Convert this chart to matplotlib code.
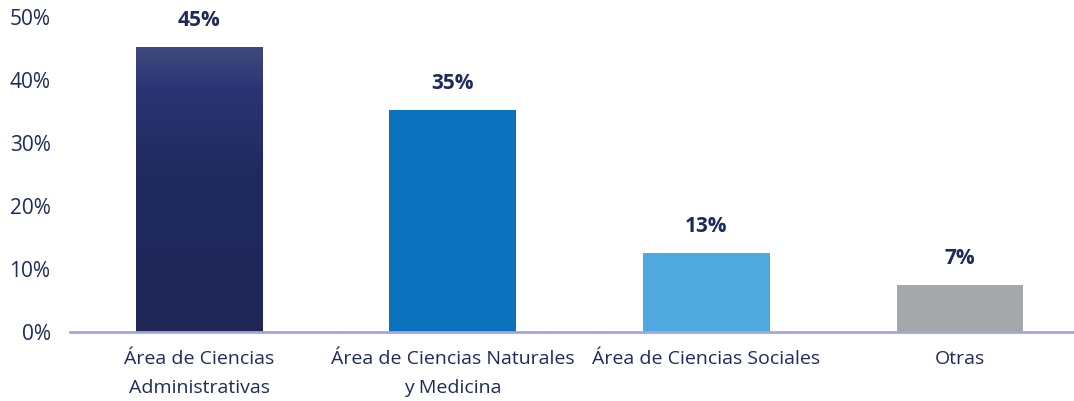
import numpy as np
import matplotlib.pyplot as plt
from matplotlib.colors import LinearSegmentedColormap

# ============================================================
#  Data
# ============================================================

categories = ["Área de Ciencias\nAdministrativas",
              "Área de Ciencias Naturales\ny Medicina",
              "Área de Ciencias Sociales",
              "Otras"]
values = [45.3, 35.2, 12.6, 7.4]          # %
bar_colors = ["#202659", "#0b73bd", "#4fa9de", "#a6a9ab"]
y_ticks = [0, 10, 20, 30, 40, 50]

TEXT = "#1f2a5c"

fig = plt.figure(figsize=(10.74, 4.01), dpi=100)
ax = fig.add_axes([70 / 1074, 69 / 401, 1 - 70 / 1074, 315 / 401])

x = np.arange(len(categories))
bars = ax.bar(x, values, width=0.5, color=bar_colors, zorder=2)

# gradient on the first bar (lighter near the top)
b0 = bars[0]
grad = LinearSegmentedColormap.from_list(
    "g", [(0.0, "#1f2657"), (0.55, "#202a5e"), (0.85, "#2a3474"), (1.0, "#3f4b7f")])
img = ax.imshow(np.linspace(0, 1, 256).reshape(-1, 1), cmap=grad, aspect="auto",
                origin="lower",
                extent=[b0.get_x(), b0.get_x() + b0.get_width(), 0, b0.get_height()],
                zorder=3)
img.set_clip_path(b0)

for xi, v in zip(x, values):
    ax.text(xi, v + 4.2, f"{v:.0f}%", ha="center", va="center", fontsize=15,
            fontweight="bold", color=TEXT, family="Open Sans")

ax.set_xlim(-0.51, 3.45)
ax.set_ylim(0, 50)
ax.set_yticks(y_ticks)
ax.set_yticklabels([f"{t}%" for t in y_ticks], family="Open Sans", fontsize=15, color=TEXT)
ax.set_xticks(x)
ax.set_xticklabels(categories, family="Open Sans", fontsize=14, color=TEXT,
                   linespacing=1.75)
ax.tick_params(axis="both", length=0)
ax.tick_params(axis="x", pad=13)
ax.tick_params(axis="y", pad=14)

for s in ("top", "right", "left"):
    ax.spines[s].set_visible(False)
ax.spines["bottom"].set_color("#a5a5dd")
ax.spines["bottom"].set_linewidth(2)
ax.spines["bottom"].set_zorder(4)

fig.savefig("out.png", dpi=100)
